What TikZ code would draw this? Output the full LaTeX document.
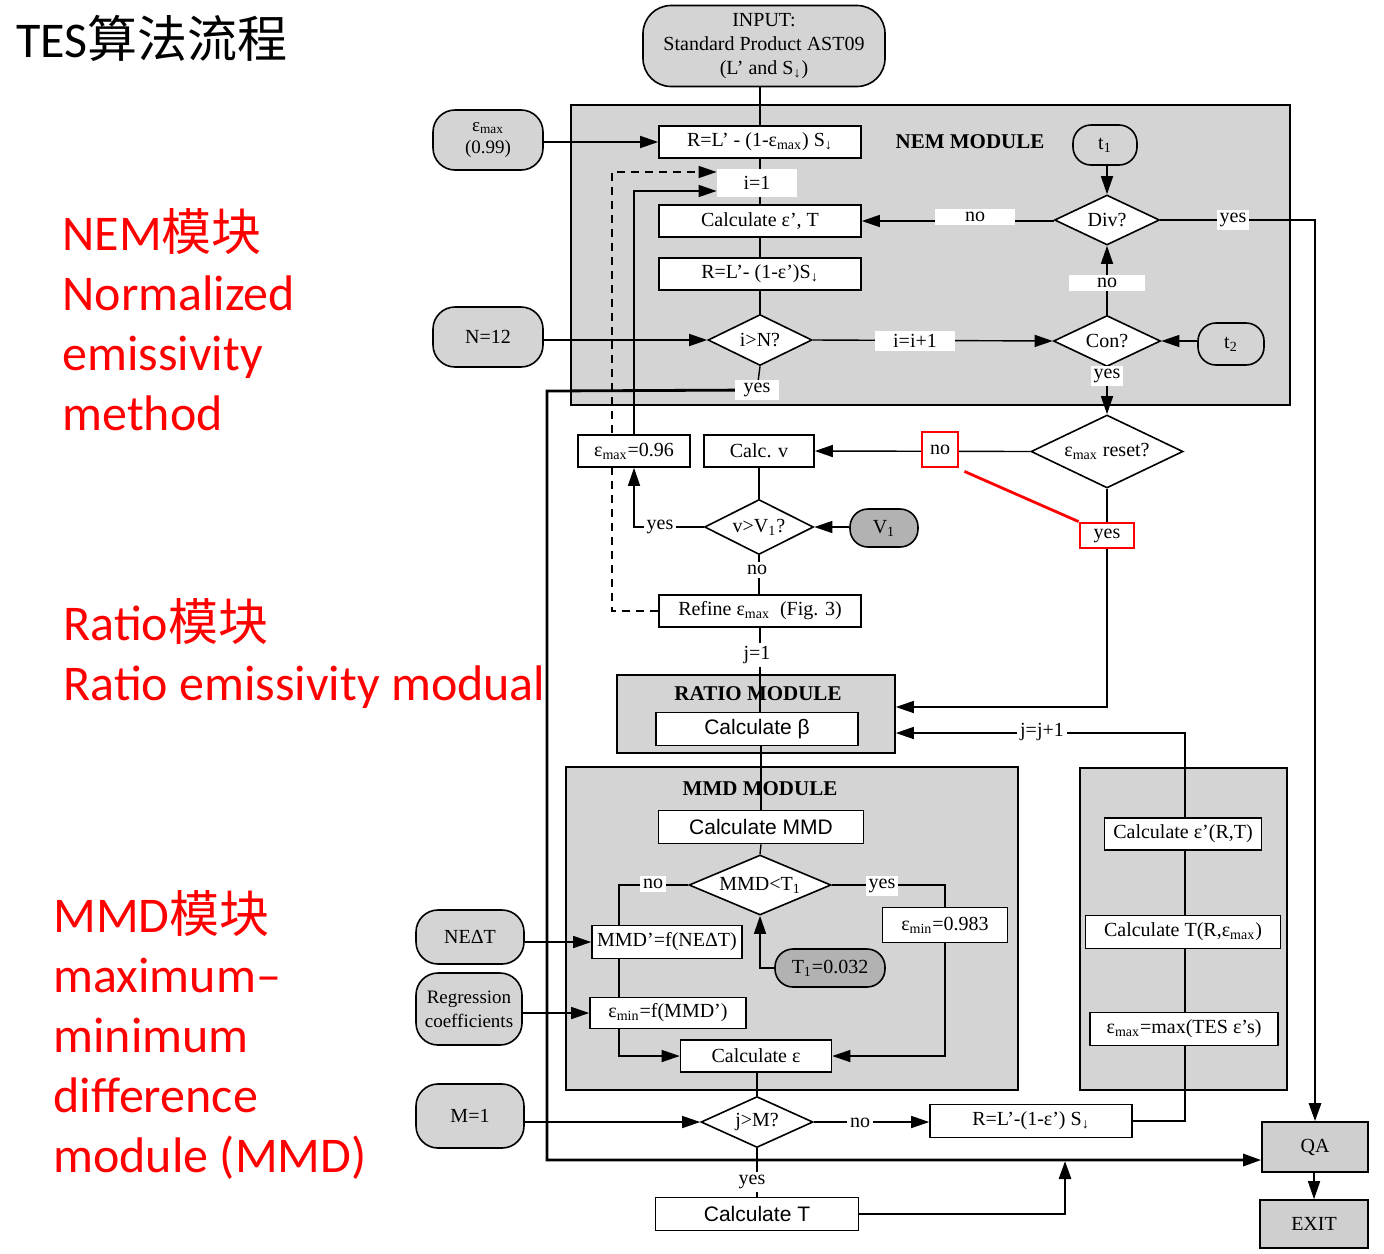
\documentclass[tikz,border=0pt]{standalone}
\usepackage{fontspec}
\setmainfont{Liberation Serif}
\setsansfont{Liberation Sans}
\newfontfamily\cali{Carlito}
\newfontfamily\cjk{Noto Sans CJK SC}
\usetikzlibrary{shapes.geometric,arrows.meta}
\newcommand{\dfont}{\fontsize{10}{12}\selectfont}
\newcommand{\redfont}{\cali\fontsize{25}{30}\selectfont}
\pgfdeclarelayer{back}
\pgfdeclarelayer{wires}
\pgfsetlayers{back,wires,main}
\tikzset{
  box/.style={draw, line width=0.8pt, fill=white, inner sep=1pt, minimum width=101pt, minimum height=16pt, font=\dfont},
  sbox/.style={box, font=\sffamily\fontsize{10.5}{12}\selectfont},
  term/.style={draw, line width=0.8pt, fill=black!17, rounded corners=11pt, inner sep=1pt, font=\dfont, align=center},
  dterm/.style={term, fill=black!30, rounded corners=9pt},
  dec/.style={diamond, draw, line width=0.8pt, fill=white, aspect=2, inner sep=0pt, font=\dfont},
  module/.style={draw, line width=0.8pt, fill=black!17, inner sep=0pt},
  modlbl/.style={font=\bfseries\fontsize{10.5}{12}\selectfont},
  lbl/.style={fill=white, inner sep=1.5pt, font=\dfont},
  arr/.style={-{Triangle[length=9pt,width=6pt]}},
  wire/.style={line width=0.7pt},
  heavy/.style={line width=1.4pt},
  redtxt/.style={text=red, font=\redfont, anchor=base west, inner sep=0pt},
  redmark/.style={draw=red, line width=1.4pt},
}
\begin{document}
\begin{tikzpicture}[x=0.5pt, y=-0.5pt]
\useasboundingbox (0,0) rectangle (1384,1253);

% title and side notes
\node[anchor=base west, inner sep=0pt, font=\cali\fontsize{25}{30}\selectfont] (title) at (16,57) {TES{\cjk 算法流程}};
\node[redtxt] (nemA) at (62,250) {NEM{\cjk 模块}};
\node[redtxt] (nemB) at (62,310) {Normalized};
\node[redtxt] (nemC) at (62,370) {emissivity};
\node[redtxt] (nemD) at (62,430) {method};
\node[redtxt] (ratA) at (63,640) {Ratio{\cjk 模块}};
\node[redtxt] (ratB) at (63,700) {Ratio emissivity modual};
\node[redtxt] (mmdA) at (53,932) {MMD{\cjk 模块}};
\node[redtxt] (mmdB) at (53,992) {maximum–};
\node[redtxt] (mmdC) at (53,1052) {minimum};
\node[redtxt] (mmdD) at (53,1112) {difference};
\node[redtxt] (mmdE) at (53,1172) {module (MMD)};

% module frames
\begin{pgfonlayer}{back}
  \node[module, minimum width=359.5pt, minimum height=150pt] (nem) at (930.5,255) {};
  \node[module, minimum width=139pt, minimum height=39pt] (ratio) at (756,714) {};
  \node[module, minimum width=226pt, minimum height=161.5pt] (mmd) at (792,928.5) {};
  \node[module, minimum width=103.5pt, minimum height=161pt] (upd) at (1183.5,929) {};
\end{pgfonlayer}

% inputs
\node[term, minimum width=121pt, minimum height=40.5pt, rounded corners=14pt] (input) at (764,46) {INPUT:\\Standard Product AST09\\(L' and S\textsubscript{↓})};
\node[term, minimum width=55pt, minimum height=30pt, font=\fontsize{9.5}{11}\selectfont] (emax) at (488,140) {ε\textsubscript{max}\\(0.99)};
\node[term, minimum width=55pt, minimum height=30pt] (nval) at (488,337) {N=12};
\node[term, minimum width=54pt, minimum height=27pt] (neat) at (470,937) {NEΔT};
\node[term, minimum width=53pt, minimum height=36pt, font=\fontsize{9.5}{12}\selectfont] (regr) at (469,1009) {Regression\\coefficients};
\node[term, minimum width=54pt, minimum height=32pt] (mval) at (470,1116) {M=1};
\node[term, minimum width=32pt, minimum height=20pt, rounded corners=9pt] (tone) at (1105,145) {t\textsubscript{1}};
\node[term, minimum width=33pt, minimum height=21pt, rounded corners=9pt] (ttwo) at (1231,344) {t\textsubscript{2}};
\node[dterm, minimum width=34pt, minimum height=19pt] (vone) at (884,528) {V\textsubscript{1}};
\node[dterm, minimum width=55pt, minimum height=19pt] (Tone) at (830,968) {T\textsubscript{1}=0.032};

% NEM module
\node[modlbl] (nemlbl) at (970,142) {NEM MODULE};
\node[box] (rmax) at (760,142) {R=L' - (1-ε\textsubscript{max}) S\textsubscript{↓}};
\node[lbl, minimum width=40pt, minimum height=14pt] (ione) at (757,183) {i=1};
\node[box] (calce) at (760,221) {Calculate ε', T};
\node[box] (reps) at (760,274) {R=L'- (1-ε')S\textsubscript{↓}};
\node[dec, minimum width=52pt, minimum height=25.5pt] (ipn) at (760,340) {i>N?};
\node[dec, minimum width=53.5pt, minimum height=25.5pt] (con) at (1107,341) {Con?};
\node[dec, minimum width=52.5pt, minimum height=25pt] (div) at (1107,220) {Div?};
\node[lbl, minimum width=40pt] (nodiv) at (975,217) {no};
\node[lbl] (yesdiv) at (1233,220) {yes};
\node[lbl, minimum width=38pt] (nocon) at (1107,283) {no};
\node[lbl, minimum width=40pt] (ii) at (915,341) {i=i+1};
\node[lbl] (yescon) at (1107,376) {yes};
\node[lbl, minimum width=22pt] (yesipn) at (757,390) {yes};

% emissivity reset
\node[dec, minimum width=76pt, minimum height=36.5pt] (reset) at (1107,451.5) {ε\textsubscript{max} reset?};
\node[box, minimum width=55pt] (calcv) at (759,451) {Calc. v};
\node[box, minimum width=56pt] (esix) at (634,451) {ε\textsubscript{max}=0.96};
\node[dec, minimum width=54.5pt, minimum height=27.5pt] (vgt) at (759,527) {v>V\textsubscript{1}?};
\node[box] (refine) at (760,611) {Refine ε\textsubscript{max}\ \ (Fig. 3)};
\node[lbl, redmark, minimum width=18pt, minimum height=17.5pt] (noreset) at (940,449.5) {no};
\node[lbl, redmark, minimum width=27pt, minimum height=12.5pt, inner sep=0pt] (yesreset) at (1107,535.5) {yes};
\node[lbl] (yesv) at (660,527) {yes};
\node[lbl] (nov) at (757,570) {no};
\node[lbl] (jone) at (757,655) {j=1};

% ratio and MMD modules
\node[modlbl] (ratiolbl) at (758,694) {RATIO MODULE};
\node[sbox, minimum height=16.5pt] (beta) at (757,729) {Calculate β};
\node[modlbl] (mmdlbl) at (760,789) {MMD MODULE};
\node[sbox, minimum width=102.5pt, minimum height=16.5pt] (calcmmd) at (761,827) {Calculate MMD};
\node[dec, minimum width=71pt, minimum height=30pt] (mlt) at (760,885) {MMD<T\textsubscript{1}};
\node[box, minimum width=75pt, minimum height=16.5pt, inner sep=0pt] (mmdp) at (667,942) {MMD'=f(NEΔT)};
\node[box, minimum width=62.5pt, minimum height=17.5pt] (emin3) at (945,925) {ε\textsubscript{min}=0.983};
\node[box, minimum width=78pt, minimum height=15.5pt] (eminf) at (668,1013) {ε\textsubscript{min}=f(MMD')};
\node[box, minimum width=75.5pt] (calceps) at (756,1056) {Calculate ε};
\node[lbl] (nomlt) at (653,884) {no};
\node[lbl] (yesmlt) at (882,886) {yes};

% update column
\node[box, minimum width=78.5pt] (cerT) at (1183,834) {Calculate ε'(R,T)};
\node[box, minimum width=97.5pt, minimum height=16.5pt] (cTr) at (1183,932) {Calculate T(R,ε\textsubscript{max})};
\node[box, minimum width=94pt, minimum height=16.5pt] (emaxTES) at (1184,1029) {ε\textsubscript{max}=max(TES ε's)};
\node[lbl] (jj) at (1042,732) {j=j+1};

% final loop and exit
\node[dec, minimum width=56pt, minimum height=25.5pt] (jgm) at (757,1122) {j>M?};
\node[box, minimum height=16.5pt] (reps2) at (1031,1121) {R=L'-(1-ε')\ S\textsubscript{↓}};
\node[sbox, minimum width=101.5pt, minimum height=16.5pt] (calcT) at (757,1214) {Calculate T};
\node[lbl] (nojgm) at (860,1123) {no};
\node[lbl] (yesjgm) at (752,1182) {yes};
\node[term, fill=black!19, rounded corners=0pt, minimum width=53pt, minimum height=25pt] (qa) at (1315,1147) {QA};
\node[term, fill=black!19, rounded corners=0pt, minimum width=54pt, minimum height=24pt] (exit) at (1314,1224) {EXIT};

\coordinate (dtop) at (612,172);
\coordinate (sjoin) at (634,191);
\coordinate (lbend) at (547,391);
\coordinate (qbend) at (547,1160);
\coordinate (rin) at (1107,707);
\coordinate (nbend) at (619,885);
\coordinate (jtop) at (1185,733);
\coordinate (tjoin) at (1065,1161);

\begin{pgfonlayer}{wires}
  % NEM loop
  \draw[wire] (rmax.north |- input.south) -- (rmax.north);
  \draw[wire, arr] (emax.east |- rmax.west) -- (rmax.west);
  \draw[wire] (rmax.south) -- (calce.north);
  \draw[wire] (calce.south) -- (reps.north);
  \draw[wire] (reps.south) -- (ipn.north);
  \draw[wire, arr] (nval.east |- ipn.west) -- (ipn.west);
  \draw[wire, arr] (ipn.east) -- (con.west);
  \draw[wire, arr] (ttwo.west |- con.east) -- (con.east);
  \draw[wire, arr] (con.north) -- (div.south);
  \draw[wire, arr] (tone.south -| div.north) -- (div.north);
  \draw[wire, arr] (div.west) -- (calce.east -| div.west) -- (calce.east);
  \draw[heavy, arr] (div.east) -| (qa.north);
  \draw[wire, arr] (con.south) -- (reset.north);
  \draw[wire] (ipn.south) -- (yesipn.center);
  \draw[heavy, arr] (yesipn.center) -- (lbend) -- (qbend) -- (qbend -| qa.west);
  % emissivity reset
  \draw[wire, arr] (reset.west) -- (calcv.east);
  \draw[wire] (calcv.south) -- (vgt.north);
  \draw[wire, arr] (vone.west |- vgt.east) -- (vgt.east);
  \draw[wire, arr] (vgt.west) -| (esix.south);
  \draw[wire] (vgt.south) -- (vgt.south |- refine.north);
  \draw[wire, arr, dash pattern=on 4pt off 3pt] (refine.west) -| (dtop) -- (dtop -| ione.west);
  \draw[wire, arr] (esix.north) -- (sjoin) -- (sjoin -| ione.west);
  \draw[red, line width=1.4pt] ([shift={(5,3)}]noreset.south east) -- (yesreset.north west);
  \draw[wire, arr] (reset.south) -- (rin) -- (rin -| ratio.east);
  % ratio and MMD
  \draw[wire] (refine.south) -- (refine.south |- beta.north);
  \draw[wire] (beta.south -| calcmmd.north) -- (calcmmd.north);
  \draw[wire] (calcmmd.south) -- (mlt.north);
  \draw[wire, arr] (mlt.west) -- (nbend) |- (calceps.west);
  \draw[wire] (mlt.east) -| (emin3.north);
  \draw[wire, arr] (emin3.south) |- (calceps.east);
  \draw[wire, arr] (Tone.west) -| (mlt.south);
  \draw[wire, arr] (neat.east |- mmdp.west) -- (mmdp.west);
  \draw[wire, arr] (regr.east |- eminf.west) -- (eminf.west);
  \draw[wire] (calceps.south -| jgm.north) -- (jgm.north);
  % final loop
  \draw[wire, arr] (mval.east |- jgm.west) -- (jgm.west);
  \draw[wire, arr] (jgm.east) -- (jgm.east -| reps2.west);
  \draw[wire, arr] (reps2.east) -| (jtop) -- (jtop -| ratio.east);
  \draw[wire] (jgm.south) -- (calcT.north);
  \draw[heavy, arr] (calcT.east) -| (tjoin);
  \draw[wire, arr] (qa.south -| exit.north) -- (exit.north);
\end{pgfonlayer}
\end{tikzpicture}
\end{document}
